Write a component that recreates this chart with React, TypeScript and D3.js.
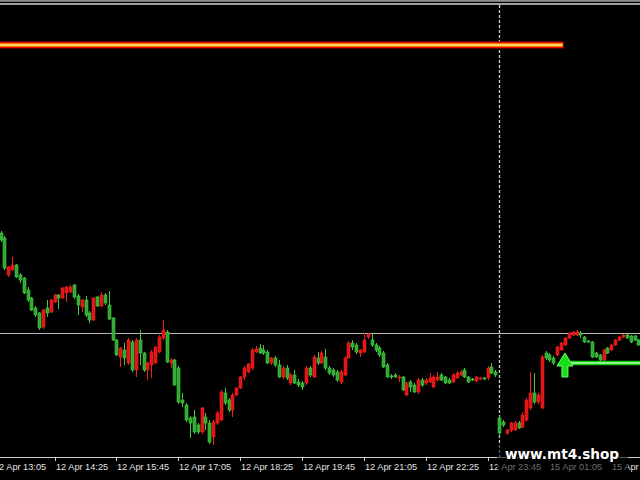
import React from 'react';
import * as d3 from 'd3';

const W = 640;
const H = 480;
const BASE = 1.06;
const POINT = 0.00001;

// M5 OHLC, values in points above 1.06000 (12 Apr 13:15 .. 15 Apr 03:00)
const opens = [
  267, 262, 225, 230, 235, 225, 222, 210, 202, 192,
  187, 173, 192, 188, 198, 205, 202, 207, 208, 215,
  204, 193, 200, 187, 180, 203, 194, 205, 195, 182,
  160, 143, 150, 137, 158, 130, 160, 147, 130, 135,
  137, 148, 162, 168, 137, 140, 132, 100, 95, 82,
  83, 75, 68, 83, 77, 63, 77, 80, 107, 100,
  90, 105, 112, 123, 128, 132, 148, 152, 150, 148,
  137, 142, 135, 123, 132, 117, 125, 118, 117, 117,
  132, 123, 142, 137, 143, 132, 130, 128, 118, 125,
  142, 157, 155, 147, 148, 163, 160, 155, 152, 147,
  135, 124, 125, 122, 123, 105, 118, 115, 108, 120,
  117, 118, 113, 120, 125, 123, 120, 118, 122, 125,
  130, 123, 121, 119, 121, 122, 122, 133, 128, 82,
  78, 67, 70, 70, 77, 73, 80, 92, 107, 98,
  92, 147, 145, 142, 145, 150, 155, 162, 165, 165,
  167, 163, 159, 158, 147, 145, 140, 152, 150, 155,
  160, 163, 165, 164, 164, 160,
];
const highs = [
  269, 264, 234, 243, 236, 227, 223, 213, 203, 194,
  188, 191, 200, 201, 206, 206, 213, 214, 215, 216,
  206, 201, 204, 189, 203, 204, 208, 207, 209, 183,
  161, 153, 157, 162, 160, 162, 170, 148, 138, 150,
  154, 165, 180, 170, 142, 141, 134, 107, 97, 84,
  90, 77, 93, 87, 80, 80, 89, 110, 112, 102,
  107, 113, 124, 134, 137, 152, 154, 156, 155, 150,
  143, 144, 140, 134, 135, 127, 130, 121, 119, 134,
  134, 145, 148, 149, 151, 134, 132, 130, 130, 144,
  159, 160, 157, 151, 167, 167, 166, 157, 154, 149,
  137, 126, 127, 125, 124, 118, 120, 117, 122, 122,
  122, 127, 125, 128, 127, 124, 122, 127, 129, 130,
  132, 124, 122, 124, 123, 123, 134, 137, 130, 84,
  80, 71, 78, 79, 79, 88, 102, 128, 127, 107,
  145, 149, 147, 144, 154, 158, 163, 168, 169, 170,
  169, 164, 160, 159, 148, 146, 151, 153, 156, 161,
  164, 166, 167, 165, 165, 161,
];
const lows = [
  258, 230, 223, 229, 222, 217, 206, 198, 189, 183,
  170, 171, 183, 187, 197, 191, 201, 198, 207, 201,
  185, 188, 183, 177, 179, 193, 193, 195, 180, 159,
  144, 133, 135, 135, 128, 123, 135, 128, 120, 122,
  136, 147, 160, 137, 132, 114, 96, 93, 78, 62,
  66, 66, 66, 70, 56, 55, 75, 79, 95, 88,
  83, 104, 111, 120, 127, 130, 147, 146, 145, 136,
  135, 133, 122, 121, 120, 115, 116, 113, 110, 115,
  123, 122, 135, 136, 130, 125, 123, 118, 116, 124,
  141, 150, 146, 143, 147, 161, 153, 148, 143, 132,
  122, 121, 122, 118, 109, 104, 108, 107, 106, 113,
  115, 117, 112, 119, 119, 116, 116, 117, 121, 124,
  122, 117, 119, 118, 120, 120, 120, 126, 123, 64,
  73, 65, 68, 69, 71, 72, 78, 90, 96, 96,
  91, 140, 138, 135, 144, 149, 154, 161, 164, 164,
  162, 157, 157, 142, 142, 139, 139, 146, 149, 154,
  159, 162, 161, 157, 159, 154,
];
const closes = [
  260, 232, 233, 235, 223, 220, 207, 200, 190, 185,
  172, 190, 187, 200, 205, 202, 212, 213, 213, 203,
  195, 200, 185, 180, 202, 194, 205, 197, 181, 160,
  145, 152, 142, 160, 130, 160, 147, 130, 137, 148,
  153, 163, 170, 138, 140, 115, 98, 97, 80, 77,
  68, 68, 92, 77, 58, 78, 87, 108, 97, 90,
  105, 112, 123, 132, 136, 150, 151, 147, 147, 137,
  142, 135, 123, 132, 122, 125, 117, 115, 113, 132,
  125, 143, 137, 147, 132, 127, 125, 120, 128, 142,
  157, 153, 148, 150, 160, 166, 155, 150, 145, 133,
  123, 123, 123, 123, 110, 117, 113, 108, 120, 115,
  120, 122, 123, 123, 120, 117, 117, 125, 127, 128,
  123, 118, 120, 123, 122, 121, 132, 127, 125, 67,
  75, 70, 77, 77, 72, 85, 100, 107, 98, 105,
  143, 142, 140, 137, 153, 157, 162, 167, 168, 168,
  165, 158, 158, 143, 143, 140, 150, 147, 155, 160,
  163, 165, 162, 158, 160, 155,
];

const FRIDAY_BARS = 129;
const fridayStart = new Date(2024, 3, 12, 13, 15);
const mondayStart = new Date(2024, 3, 15, 0, 0);
const tickBars = [-2, 14, 30, 46, 62, 78, 94, 110, 126, 142, 158];

// levels (points above 1.06000)
const topLevelPts = 496;
const resistancePts = 455;
const resistanceEndBar = 145.6;
const pivotPts = 166.5;
const signalBar = 146;
const signalPts = 147;
const signalLinePts = 137;
const signalLineStartBar = 147;

const WATERMARK = 'www.mt4.shop';

const price = (p: number) => BASE + p * POINT;
const barTime = (i: number) =>
  i < FRIDAY_BARS
    ? d3.timeMinute.offset(fridayStart, 5 * i)
    : d3.timeMinute.offset(mondayStart, 5 * (i - FRIDAY_BARS));
const fmt = d3.timeFormat('%d %b %H:%M');

const GREEN_FILL = '#30a830';
const GREEN_LINE = '#45c845';
const RED_FILL = '#e01414';
const RED_LINE = '#f02020';

export default function App() {
  const n = opens.length;
  const x = d3.scaleLinear().domain([0, n - 1]).range([0.5, 0.5 + (n - 1) * 3.866]);
  const y = d3.scaleLinear().domain([price(20), price(500)]).range([H, 0]);
  const axisY = 457;

  const resY = y(price(resistancePts));
  const resX2 = x(resistanceEndBar);
  const sepX = Math.round(x(FRIDAY_BARS)) + 0.5;

  const ax = x(signalBar);
  const ay = y(price(signalPts));
  const arrowPath = [
    [ax, ay],
    [ax + 8, ay + 13],
    [ax + 3, ay + 13],
    [ax + 3, ay + 24],
    [ax - 3, ay + 24],
    [ax - 3, ay + 13],
    [ax - 8, ay + 13],
  ];
  const sigY = y(price(signalLinePts));

  return (
    <svg
      width={W}
      height={H}
      style={{ position: 'absolute', left: 0, top: 0, background: '#000', display: 'block' }}
    >
      <rect x={0} y={0} width={W} height={H} fill="#000" />
      {/* top border lines */}
      <rect x={0} y={0} width={W} height={1.8} fill="#8e8e8e" />
      <line x1={0} x2={W} y1={y(price(topLevelPts))} y2={y(price(topLevelPts))} stroke="#d6d6d6" strokeWidth={1.4} />

      {/* pivot level */}
      <line x1={0} x2={W} y1={Math.round(y(price(pivotPts))) + 0.5} y2={Math.round(y(price(pivotPts))) + 0.5} stroke="#b8b8b8" strokeWidth={1} />

      {/* day separator */}
      <line x1={sepX} x2={sepX} y1={5} y2={axisY} stroke="#d0d0d0" strokeWidth={1.3} strokeDasharray="3 2" />

      {/* resistance glow line */}
      <line x1={0} x2={resX2} y1={resY} y2={resY} stroke="#7a0000" strokeWidth={7.5} />
      <line x1={0} x2={resX2} y1={resY} y2={resY} stroke="#e00a00" strokeWidth={5.8} />
      <line x1={0} x2={resX2 - 0.5} y1={resY} y2={resY} stroke="#ff7a00" strokeWidth={3.8} />
      <line x1={0} x2={resX2 - 1} y1={resY} y2={resY} stroke="#ffee90" strokeWidth={1.6} />

      {/* candles */}
      {opens.map((o, i) => {
        const c = closes[i];
        const up = c >= o;
        const cx = Math.round(x(i));
        const yTop = y(price(Math.max(o, c)));
        const yBot = y(price(Math.min(o, c)));
        const yHi = y(price(highs[i]));
        const yLo = y(price(lows[i]));
        return (
          <g key={i}>
            <line
              x1={cx + 0.5}
              x2={cx + 0.5}
              y1={yHi}
              y2={yLo}
              stroke={up ? RED_LINE : GREEN_LINE}
              strokeWidth={1}
            />
            <rect
              x={cx - 1}
              y={yTop}
              width={3}
              height={Math.max(1, yBot - yTop)}
              fill={up ? RED_FILL : GREEN_FILL}
              stroke={up ? RED_LINE : GREEN_LINE}
              strokeWidth={0.6}
            />
          </g>
        );
      })}

      {/* signal line */}
      <line x1={x(signalLineStartBar)} x2={W} y1={sigY} y2={sigY} stroke="#10d010" strokeWidth={4.6} />
      <line x1={x(signalLineStartBar)} x2={W} y1={sigY} y2={sigY} stroke="#b8ffb0" strokeWidth={1.6} />

      {/* buy arrow */}
      <path
        d={'M' + arrowPath.map((p) => p.join(',')).join('L') + 'Z'}
        fill="#18e018"
        stroke="#6cff6c"
        strokeWidth={1}
      />

      {/* time axis */}
      <line x1={0} x2={W} y1={axisY + 0.5} y2={axisY + 0.5} stroke="#cfcfcf" strokeWidth={1} />
      {tickBars.map((b) => {
        const tx = Math.round(x(b)) + 0.5;
        return (
          <g key={b}>
            <line x1={tx} x2={tx} y1={axisY} y2={axisY + 4} stroke="#cfcfcf" strokeWidth={1} />
            <text
              x={tx + 0.5}
              y={469.5}
              fill="#e2e2e2"
              fontFamily="'Liberation Sans', Arial, sans-serif"
              fontSize={9.2}
            >
              {fmt(barTime(b))}
            </text>
          </g>
        );
      })}

      {/* watermark */}
      <rect x={497} y={444} width={131} height={36} fill="#000" opacity={0.55} />
      <text
        x={505}
        y={459}
        fill="#ffffff"
        stroke="#000"
        strokeWidth={2.5}
        paintOrder="stroke"
        fontFamily="'DejaVu Sans', sans-serif"
        fontWeight="bold"
        fontSize={13.6}
      >
        {WATERMARK}
      </text>
    </svg>
  );
}
